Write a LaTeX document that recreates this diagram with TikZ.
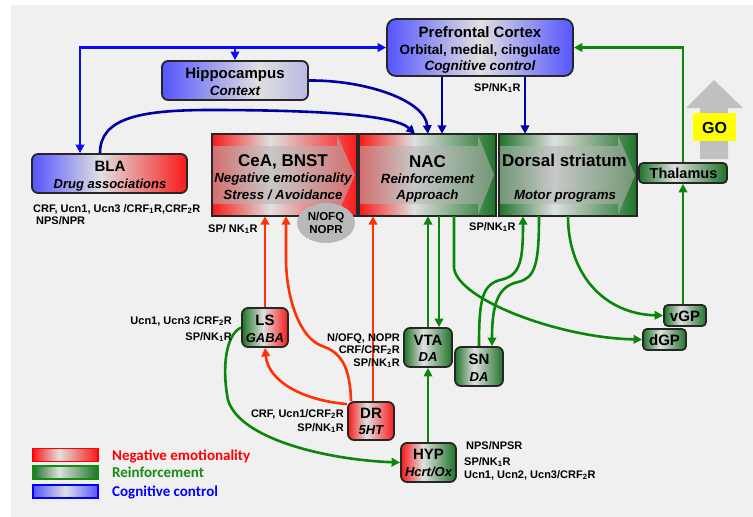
\documentclass[tikz,border=0pt]{standalone}
\usepackage{fontspec}
\setmainfont{Liberation Sans}
\newfontfamily\carlito{Carlito}
\usetikzlibrary{arrows.meta,shapes.geometric}

\definecolor{bgc}{RGB}{240,240,240}
\definecolor{redE}{RGB}{250,25,25}
\definecolor{greenE}{RGB}{30,115,40}
\definecolor{blueE}{RGB}{85,85,255}
\definecolor{lightC}{RGB}{224,224,224}
\definecolor{hipR}{RGB}{185,185,225}
\definecolor{cogA}{RGB}{10,10,245}
\definecolor{cogB}{RGB}{0,0,165}
\definecolor{reiC}{RGB}{10,135,10}
\definecolor{negC}{RGB}{255,50,5}
\definecolor{legR}{RGB}{255,0,0}
\definecolor{legG}{RGB}{20,140,20}
\definecolor{legB}{RGB}{0,0,255}
\definecolor{goY}{RGB}{255,255,0}
\definecolor{goG}{RGB}{192,192,192}
\definecolor{ovlC}{RGB}{180,180,180}
\definecolor{ellC}{RGB}{185,185,185}

\pgfdeclarehorizontalshading{sRR}{100bp}{color(0bp)=(redE); color(25bp)=(redE); color(45bp)=(lightC); color(75bp)=(redE); color(100bp)=(redE)}
\pgfdeclarehorizontalshading{sGG}{100bp}{color(0bp)=(greenE); color(25bp)=(greenE); color(45bp)=(lightC); color(75bp)=(greenE); color(100bp)=(greenE)}
\pgfdeclarehorizontalshading{sRG}{100bp}{color(0bp)=(redE); color(25bp)=(redE); color(45bp)=(lightC); color(75bp)=(greenE); color(100bp)=(greenE)}
\pgfdeclarehorizontalshading{sGR}{100bp}{color(0bp)=(greenE); color(25bp)=(greenE); color(48bp)=(lightC); color(75bp)=(redE); color(100bp)=(redE)}
\pgfdeclarehorizontalshading{sBB}{100bp}{color(0bp)=(blueE); color(25bp)=(blueE); color(50bp)=(lightC); color(75bp)=(blueE); color(100bp)=(blueE)}
\pgfdeclarehorizontalshading{sBL}{100bp}{color(0bp)=(blueE); color(25bp)=(blueE); color(58bp)=(lightC); color(75bp)=(hipR); color(100bp)=(hipR)}
\pgfdeclarehorizontalshading{sBR}{100bp}{color(0bp)=(blueE); color(25bp)=(blueE); color(47bp)=(lightC); color(75bp)=(redE); color(100bp)=(redE)}

\newcommand\fsz[1]{\fontsize{#1}{#1}\selectfont\bfseries}

\begin{document}
\begin{tikzpicture}[x=1pt,y=-1pt,
  sbox/.style={draw=black!85, line width=1.8pt, rounded corners=6pt, inner sep=0pt},
  bbox/.style={inner sep=0pt},
  bborder/.style={draw=black!85, line width=1.9pt},
  ovl/.style={fill=ovlC, fill opacity=0.55},
  txt/.style={anchor=base, inner sep=0pt},
  lab/.style={inner sep=0pt},
  legbar/.style={line width=1.4pt, inner sep=0pt, minimum width=65pt, minimum height=13pt},
  conn/.style={line width=2.6pt, -{Triangle[length=8.5pt,width=8.5pt]}},
  tipboth/.style={line width=2.6pt, {Triangle[length=8.5pt,width=8.5pt]}-{Triangle[length=8.5pt,width=8.5pt]}}
]
\useasboundingbox (0,0) rectangle (753,517);
\fill[bgc] (11,5) rectangle (753,517);

% GO arrow
\fill[goG] (700,159) -- (700,108) -- (686,108) -- (714,80) -- (743,108) -- (728,108) -- (728,159) -- cycle;
\node[fill=goY, minimum width=43pt, minimum height=28pt, inner sep=0pt] (go) at (714.5,127) {};
\node[txt] (got) at (714.5,133) {\fsz{16}GO};

% boxes
\node[sbox, shading=sBB, minimum width=186pt, minimum height=57pt, rounded corners=9pt] (pfc) at (480,47.5) {};
\node[sbox, shading=sBL, minimum width=146pt, minimum height=39pt] (hip) at (235,80.5) {};
\node[sbox, shading=sBR, minimum width=155pt, minimum height=39pt] (bla) at (109.5,173.5) {};

\node[bbox, shading=sRR, minimum width=145pt, minimum height=82pt] (cea) at (284.5,175) {};
\node[bbox, shading=sRG, minimum width=137pt, minimum height=82pt] (nac) at (427.5,175) {};
\node[bbox, shading=sGG, minimum width=138pt, minimum height=82pt] (ds) at (568,175) {};
\fill[ovl] (212,146) -- (337,146) -- (337,135) -- (355,175) -- (337,215) -- (337,204) -- (212,204) -- cycle;
\fill[ovl] (359,146) -- (478,146) -- (478,135) -- (494,175) -- (478,215) -- (478,204) -- (359,204) -- cycle;
\fill[ovl] (499,146) -- (618,146) -- (618,135) -- (635,175) -- (618,215) -- (618,204) -- (499,204) -- cycle;
\draw[bborder] (cea.north west) rectangle (cea.south east);
\draw[bborder] (nac.north west) rectangle (nac.south east);
\draw[bborder] (ds.north west) rectangle (ds.south east);

\node[ellipse, fill=ellC, minimum width=58pt, minimum height=40pt, inner sep=0pt] (nofq) at (326,223) {};

\node[sbox, shading=sGG, minimum width=88pt, minimum height=20pt, rounded corners=4pt] (thal) at (683,173) {};
\node[sbox, shading=sGR, minimum width=46pt, minimum height=39pt] (ls) at (265,327.5) {};
\node[sbox, shading=sRR, minimum width=46pt, minimum height=38pt] (dr) at (371,421) {};
\node[sbox, shading=sGG, minimum width=48pt, minimum height=39pt] (vta) at (428,347.5) {};
\node[sbox, shading=sGG, minimum width=48pt, minimum height=39pt] (sn) at (479,366.5) {};
\node[sbox, shading=sRG, minimum width=55pt, minimum height=39pt] (hyp) at (428.5,462.5) {};
\node[sbox, shading=sGG, minimum width=42pt, minimum height=21pt, rounded corners=4pt] (vgp) at (685,315.5) {};
\node[sbox, shading=sGG, minimum width=43pt, minimum height=21pt, rounded corners=4pt] (dgp) at (664.5,339.5) {};

% box texts
\node[txt] (pfc1) at (480,37.5) {\fsz{15}Prefrontal Cortex};
\node[txt] (pfc2) at (480,54) {\fsz{13.5}Orbital, medial, cingulate};
\node[txt] (pfc3) at (480,70) {\fsz{13.5}\itshape Cognitive control};
\node[txt] (hip1) at (235,78.5) {\fsz{15}Hippocampus};
\node[txt] (hip2) at (235,95) {\fsz{13.5}\itshape Context};
\node[txt] (bla1) at (110,171.5) {\fsz{15}BLA};
\node[txt] (bla2) at (110,188) {\fsz{13}\itshape Drug associations};
\node[txt] (cea1) at (283,166) {\fsz{17}CeA, BNST};
\node[txt] (cea2) at (283,182.5) {\fsz{13.3}\itshape Negative emotionality};
\node[txt] (cea3) at (283,199) {\fsz{13.3}\itshape Stress / Avoidance};
\node[txt] (nac1) at (427.5,167) {\fsz{17}NAC};
\node[txt] (nac2) at (427.5,183) {\fsz{13.3}\itshape Reinforcement};
\node[txt] (nac3) at (427.5,199) {\fsz{13.3}\itshape Approach};
\node[txt] (ds1) at (564.5,166) {\fsz{17}Dorsal striatum};
\node[txt] (ds2) at (565,199) {\fsz{13.3}\itshape Motor programs};
\node[txt] (thalt) at (683.5,178) {\fsz{14.5}Thalamus};
\node[txt] (nofq1) at (326,220.3) {\fsz{11.5}N/OFQ};
\node[txt] (nofq2) at (326,233.3) {\fsz{11.5}NOPR};
\node[txt] (ls1) at (265,325.5) {\fsz{15}LS};
\node[txt] (ls2) at (265,342.7) {\fsz{13}\itshape GABA};
\node[txt] (dr1) at (371,418.5) {\fsz{15}DR};
\node[txt] (dr2) at (371,434.7) {\fsz{13}\itshape 5HT};
\node[txt] (vta1) at (428,345.5) {\fsz{15}VTA};
\node[txt] (vta2) at (428,361.7) {\fsz{13}\itshape DA};
\node[txt] (sn1) at (479,364.5) {\fsz{15}SN};
\node[txt] (sn2) at (479,381.7) {\fsz{13}\itshape DA};
\node[txt] (hyp1) at (428.5,459.5) {\fsz{15}HYP};
\node[txt] (hyp2) at (428.5,476.7) {\fsz{13}\itshape Hcrt/Ox};
\node[txt] (vgpt) at (685,321) {\fsz{15}vGP};
\node[txt] (dgpt) at (664.5,345) {\fsz{15}dGP};

% blue connectors
\draw[tipboth, cogA] (bla.north -| 80,0) |- (pfc.west);
\draw[conn, cogA] (hip.north |- pfc.west) -- (hip.north);
\draw[conn, cogB] (hip.east) .. controls (365,80) and (425,100) .. (nac.north -| 428,0);
\draw[conn, cogB] (bla.north -| 100,0) .. controls (100,118) and (140,110) .. (210,110) .. controls (320,110) and (395,115) .. (nac.north -| 415,0);
\draw[conn, cogB] (pfc.south -| 442,0) -- (nac.north -| 442,0);
\draw[conn, cogB] (pfc.south -| 525,0) -- (ds.north -| 525,0);

% green connectors
\draw[conn, reiC] (thal.north) |- (pfc.east);
\draw[conn, reiC] (thal.south |- vgp.north) -- (thal.south);
\draw[conn, reiC] (ds.south -| 568,0) .. controls (568,275) and (605,314) .. (vgp.west);
\draw[conn, reiC] (nac.south -| 454,0) -- (454,268) .. controls (458,300) and (560,338) .. (dgp.west);
\draw[conn, reiC] (vta.north -| 428,0) -- (nac.south -| 428,0);
\draw[conn, reiC] (nac.south -| 439,0) -- (vta.north -| 439,0);
\draw[conn, reiC] (hyp.north -| 428,0) -- (vta.south -| 428,0);
\draw[conn, reiC] (sn.north -| 479,0) .. controls (479,300) and (482,285) .. (500,280) .. controls (520,276) and (523,262) .. (ds.south -| 523,0);
\draw[conn, reiC] (ds.south -| 539,0) .. controls (539,265) and (535,278) .. (518,282) .. controls (500,286) and (492,300) .. (sn.north -| 492,0);
\draw[conn, reiC] (ls.west) .. controls (225,335) and (222,370) .. (228,400) .. controls (240,440) and (330,460) .. (hyp.west);

% red connectors
\draw[conn, negC] (ls.north) -- (cea.south -| ls.north);
\draw[conn, negC] (dr.north -| 351,0) .. controls (350,365) and (340,352) .. (322,346) .. controls (300,338) and (287,300) .. (286,262) -- (cea.south -| 286,0);
\draw[conn, negC] ([yshift=-3pt]dr.north west) .. controls (300,400) and (268,380) .. (ls.south);
\draw[conn, negC] (dr.north -| 373,0) -- (nac.south -| 373,0);

% labels
\node[lab, anchor=base west] (l1) at (33,212) {\fsz{11}CRF, Ucn1, Ucn3 /CRF\textsubscript{1}R,CRF\textsubscript{2}R};
\node[lab, anchor=base west] (l2) at (36,224) {\fsz{11}NPS/NPR};
\node[lab, anchor=base west] (l3) at (208,232) {\fsz{11}SP/ NK\textsubscript{1}R};
\node[lab, anchor=base west] (l4) at (474,91) {\fsz{11}SP/NK\textsubscript{1}R};
\node[lab, anchor=base west] (l5) at (469,230) {\fsz{11}SP/NK\textsubscript{1}R};
\node[lab, anchor=base east] (l6) at (232,324) {\fsz{11}Ucn1, Ucn3 /CRF\textsubscript{2}R};
\node[lab, anchor=base east] (l7) at (232,340) {\fsz{11}SP/NK\textsubscript{1}R};
\node[lab, anchor=base east] (l8) at (400,341) {\fsz{11}N/OFQ, NOPR};
\node[lab, anchor=base east] (l9) at (400,353) {\fsz{11}CRF/CRF\textsubscript{2}R};
\node[lab, anchor=base east] (l10) at (400,366) {\fsz{11}SP/NK\textsubscript{1}R};
\node[lab, anchor=base east] (l11) at (344,417) {\fsz{11}CRF, Ucn1/CRF\textsubscript{2}R};
\node[lab, anchor=base east] (l12) at (344,431) {\fsz{11}SP/NK\textsubscript{1}R};
\node[lab, anchor=base west] (l13) at (466,449) {\fsz{11}NPS/NPSR};
\node[lab, anchor=base west] (l14) at (464,465) {\fsz{11}SP/NK\textsubscript{1}R};
\node[lab, anchor=base west] (l15) at (464,478) {\fsz{11}Ucn1, Ucn2, Ucn3/CRF\textsubscript{2}R};

% legend
\node[legbar, draw=legR, shading=sRR] (leg1) at (65.5,455) {};
\node[legbar, draw=legG, shading=sGG] (leg2) at (65.5,472.5) {};
\node[legbar, draw=legB, shading=sBB] (leg3) at (65.5,491.5) {};
\node[lab, anchor=base west, text=legR] (leg1t) at (112,460) {\carlito\fsz{15}Negative emotionality};
\node[lab, anchor=base west, text=legG] (leg2t) at (112,477) {\carlito\fsz{15}Reinforcement};
\node[lab, anchor=base west, text=legB] (leg3t) at (112,496) {\carlito\fsz{15}Cognitive control};
\end{tikzpicture}
\end{document}
